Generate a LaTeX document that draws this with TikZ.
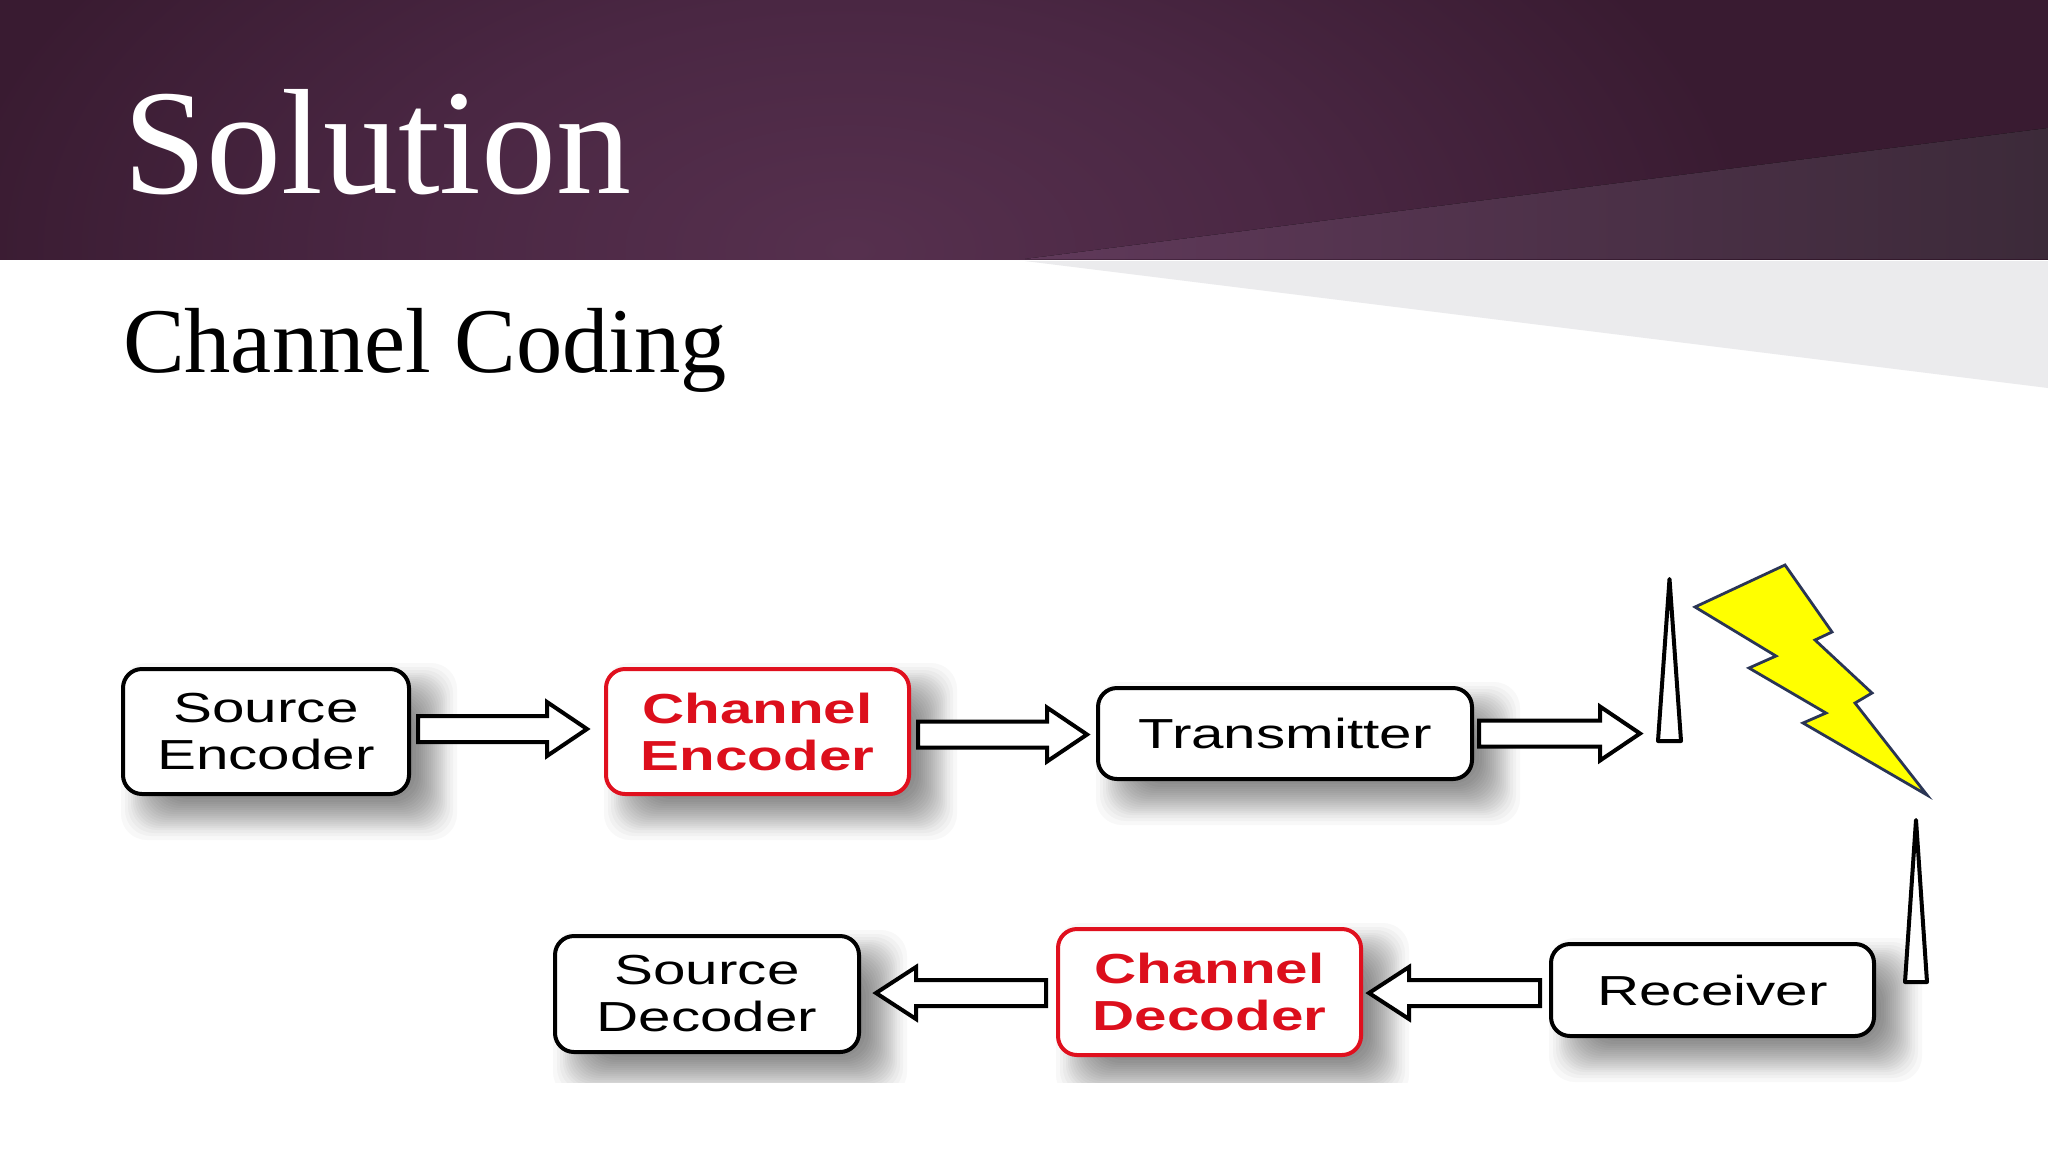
\documentclass[tikz,border=0pt]{standalone}
\usepackage{fontspec}
\setmainfont{Liberation Serif}
\newfontfamily\boxfont[FakeStretch=1.39]{Liberation Sans}
\usetikzlibrary{calc,backgrounds}
\definecolor{hdrC}{HTML}{56304E}
\definecolor{hdrM}{HTML}{4A2743}
\definecolor{hdrE}{HTML}{391B31}
\definecolor{triL}{HTML}{60395A}
\definecolor{triR}{HTML}{3C2A39}
\definecolor{triG}{HTML}{EBEBED}
\definecolor{redbox}{HTML}{E0101E}
\definecolor{redtxt}{HTML}{DC0F1C}
\definecolor{boltedge}{HTML}{2A3555}
\definecolor{boltfill}{rgb}{1,1,0}
\pgfdeclareradialshading{hdrglow}{\pgfpoint{0bp}{0bp}}{
  color(0bp)=(hdrC); color(12.5bp)=(hdrM); color(25bp)=(hdrE); color(100bp)=(hdrE)}
\tikzset{
  blockbox/.style={draw=black,fill=white,line width=4pt,rounded corners=19pt,
    inner sep=0pt,align=center,text=black,
    font=\boxfont\fontsize{42}{47}\selectfont},
  redblock/.style={blockbox,draw=redbox,text=redtxt,
    font=\boxfont\bfseries\fontsize{42}{47}\selectfont},
  blockarrow/.style={draw=black,fill=white,line width=4pt,line join=miter},
  antenna/.style={draw=black,fill=white,line width=4pt,line join=round},
  bolt/.style={draw=boltedge,fill=boltfill,line width=2.8pt,line join=miter},
  slidetext/.style={anchor=base west,inner sep=0pt,outer sep=0pt}
}
\newcommand{\blockright}[5]{%
  \draw[blockarrow] let \p1=(#1), \p2=(#2) in
    (\x1+#3pt,\y1+#5pt+13pt) -- (\x2-#4pt-40pt,\y1+#5pt+13pt)
    -- (\x2-#4pt-40pt,\y1+#5pt+27pt) -- (\x2-#4pt,\y1+#5pt)
    -- (\x2-#4pt-40pt,\y1+#5pt-27pt) -- (\x2-#4pt-40pt,\y1+#5pt-13pt)
    -- (\x1+#3pt,\y1+#5pt-13pt) -- cycle;}
\newcommand{\blockleft}[5]{%
  \draw[blockarrow] let \p1=(#1), \p2=(#2) in
    (\x1-#3pt,\y1+#5pt+13pt) -- (\x2+#4pt+40pt,\y1+#5pt+13pt)
    -- (\x2+#4pt+40pt,\y1+#5pt+26pt) -- (\x2+#4pt,\y1+#5pt)
    -- (\x2+#4pt+40pt,\y1+#5pt-26pt) -- (\x2+#4pt+40pt,\y1+#5pt-13pt)
    -- (\x1-#3pt,\y1+#5pt-13pt) -- cycle;}
\newcommand{\softshadow}[1]{%
  \foreach \e in {-24,-20,-17,-14,-12,-10,-8,-6,-4,-2,0,2,4,6,8,10,12,14,17,20,24}{
    \fill[black,opacity=.028,rounded corners=26pt]
      ([xshift={(22+\e)*1pt},yshift={(-20+\e)*1pt}]#1.north east) rectangle
      ([xshift={(24-\e)*1pt},yshift={(-20-\e)*1pt}]#1.south west);}}
\begin{document}
\begin{tikzpicture}[x=1pt,y=-1pt]
\useasboundingbox (0,0) rectangle (2048,1152);
% header band
\begin{scope}
  \clip (0,0) rectangle (2048,259);
  \fill[shading=hdrglow] (-50,-250) rectangle (1750,750);
  \fill[hdrE] (1749,-1) rectangle (2049,260);
  \fill[left color=triL,right color=triR] (1025,259) -- (2048,128) -- (2048,259) -- cycle;
\end{scope}
\fill[triG] (1025,261) -- (2048,261) -- (2048,388) -- cycle;
% titles
\node[slidetext,text=white,font=\fontsize{150}{150}\selectfont] (title) at (123,193) {Solution};
\node[slidetext,text=black,font=\fontsize{92.5}{93}\selectfont] (subtitle) at (123,372) {Channel Coding};
% boxes
\node[blockbox,minimum width=286pt,minimum height=125pt] (senc) at (266,731.5) {Source\\Encoder};
\node[redblock,minimum width=303pt,minimum height=125pt] (cenc) at (757.5,731.5) {Channel\\Encoder};
\node[blockbox,minimum width=374pt,minimum height=91pt] (tx) at (1285,733.5) {Transmitter};
\node[blockbox,minimum width=304pt,minimum height=116pt] (sdec) at (707,994) {Source\\Decoder};
\node[redblock,minimum width=303pt,minimum height=126pt] (cdec) at (1209.5,992) {Channel\\Decoder};
\node[blockbox,minimum width=323pt,minimum height=92pt] (rx) at (1712.5,990) {Receiver};
% antennas and lightning
\draw[antenna] (1669.5,579) -- (1681,741) -- (1658,741) -- cycle;
\coordinate (ant1) at (1657,733);
\draw[antenna] (1916,820) -- (1927,982) -- (1905,982) -- cycle;
\draw[bolt] (1785,565) -- (1832,632) -- (1815,640) -- (1872,693) -- (1855,703) -- (1927,795)
  -- (1803,723) -- (1826,713) -- (1749,668) -- (1776,656) -- (1695,607) -- cycle;
% connectors
\blockright{senc.east}{cenc.west}{7}{17}{2.5}
\blockright{cenc.east}{tx.west}{7}{9}{-3}
\blockright{tx.east}{ant1}{5}{17}{0}
\blockleft{rx.west}{cdec.east}{9}{6}{-3}
\blockleft{cdec.west}{sdec.east}{10}{15}{-1}
% soft drop shadows
\begin{pgfonlayer}{background}
  \fill[white] (0,0) rectangle (2048,1152);
  \begin{scope}
    \clip (0,0) rectangle (2048,1082);
    \softshadow{senc}\softshadow{cenc}\softshadow{tx}
    \softshadow{sdec}\softshadow{cdec}\softshadow{rx}
  \end{scope}
\end{pgfonlayer}
\end{tikzpicture}
\end{document}
